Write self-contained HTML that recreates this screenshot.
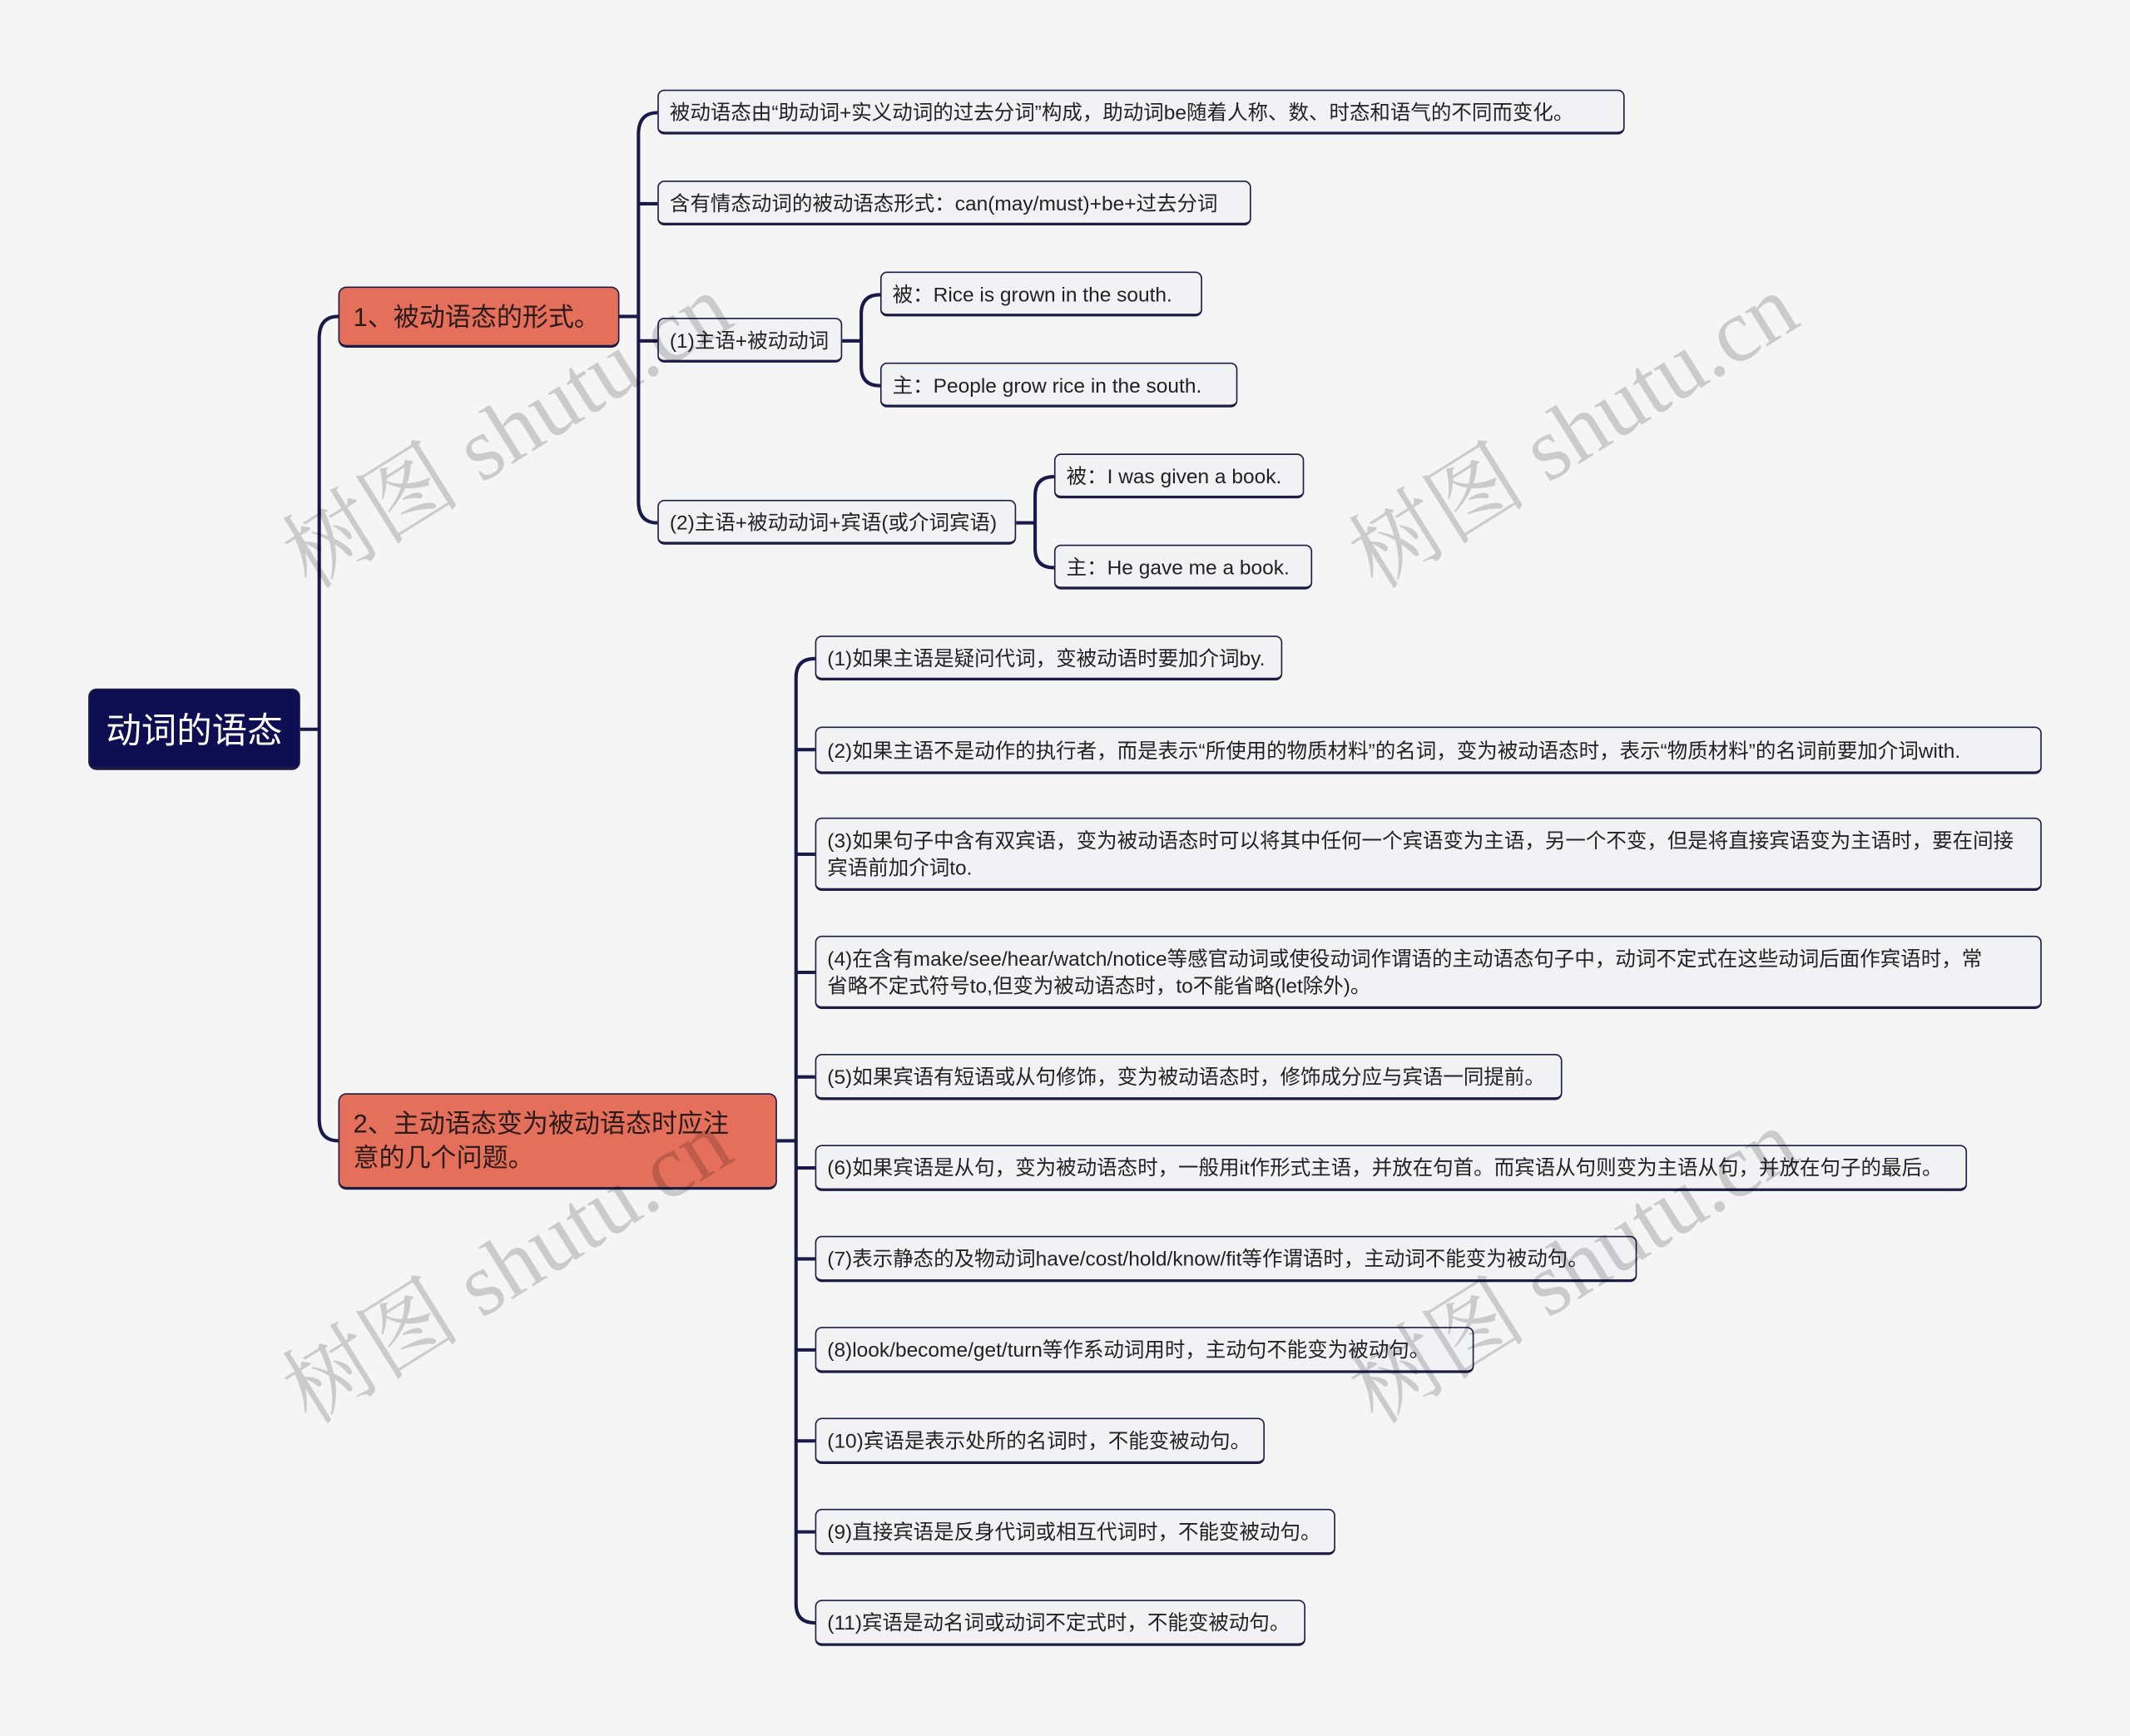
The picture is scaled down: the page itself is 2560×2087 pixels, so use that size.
<!DOCTYPE html>
<html><head><meta charset="utf-8"><style>
html,body{margin:0;padding:0;background:#f5f5f5;width:2560px;height:2087px;overflow:hidden}
#w{position:absolute;left:0;top:0;width:1568px;height:1278px;transform:scale(1.632653);transform-origin:0 0;font-family:"Liberation Sans","Noto Sans CJK SC",sans-serif}
.n{position:absolute;box-sizing:border-box;border:1.3px solid #1c1c45;border-bottom-width:2px;border-radius:5px;background:#f2f2f4;color:#222;font-size:15px;line-height:20px;padding:3px 8px 0 8px;display:flex;align-items:center;white-space:nowrap}
.m{white-space:normal}
.b{background:#e46f5a;font-size:19px;line-height:25px;color:#2a1a1a;padding:2px 10px 0 10px;border-radius:6px}
.r{background:#0d0f52;color:#fff;font-size:26px;justify-content:center;border-radius:6px}
.wm{position:absolute;font-family:"Liberation Serif","Noto Serif CJK SC",serif;font-size:66px;color:rgba(0,0,0,0.17);transform:rotate(-32deg);white-space:nowrap}
svg{position:absolute;left:0;top:0}
</style></head><body><div id="w">
<svg width="1568" height="1278" fill="none" stroke="#1a1a4a" stroke-width="2.5">
<path d="M221,537 H235 M235,249 Q235,233 249,233 M235,249 V824 Q235,840 249,840"/>
<path d="M456,233 H470 M470,99 Q470,83 484,83 M470,99 V369 Q470,385 484,385 M470,150 H484 M470,251 H484"/>
<path d="M620,251 H634 M634,231 Q634,217 648,217 M634,231 V270 Q634,284 648,284"/>
<path d="M748,385 H762 M762,365 Q762,351 776,351 M762,365 V404 Q762,418 776,418"/>
<path d="M572,840 H586 M586,499 Q586,485 600,485 M586,499 V1181 Q586,1195 600,1195 M586,552 H600 M586,629 H600 M586,716 H600 M586,793 H600 M586,860 H600 M586,927 H600 M586,994 H600 M586,1061 H600 M586,1128 H600"/>
</svg>
<div class="n r" style="left:65px;top:507px;width:156px;height:60px">动词的语态</div>
<div class="n b" style="left:249px;top:211px;width:207px;height:45px">1、被动语态的形式。</div>
<div class="n b m" style="left:249px;top:805px;width:323px;height:71px;padding-right:26px">2、主动语态变为被动语态时应注意的几个问题。</div>
<div class="n" style="left:484px;top:66px;width:712px;height:33px">被动语态由“助动词+实义动词的过去分词”构成，助动词be随着人称、数、时态和语气的不同而变化。</div>
<div class="n" style="left:484px;top:133px;width:437px;height:33px">含有情态动词的被动语态形式：can(may/must)+be+过去分词</div>
<div class="n" style="left:484px;top:234px;width:136px;height:33px">(1)主语+被动动词</div>
<div class="n" style="left:484px;top:368px;width:264px;height:33px">(2)主语+被动动词+宾语(或介词宾语)</div>
<div class="n" style="left:648px;top:200px;width:237px;height:33px">被：Rice is grown in the south.</div>
<div class="n" style="left:648px;top:267px;width:263px;height:33px">主：People grow rice in the south.</div>
<div class="n" style="left:776px;top:334px;width:184px;height:33px">被：I was given a book.</div>
<div class="n" style="left:776px;top:401px;width:190px;height:33px">主：He gave me a book.</div>
<div class="n" style="left:600px;top:468px;width:344px;height:33px">(1)如果主语是疑问代词，变被动语时要加介词by.</div>
<div class="n" style="left:600px;top:535px;width:903px;height:35px">(2)如果主语不是动作的执行者，而是表示“所使用的物质材料”的名词，变为被动语态时，表示“物质材料”的名词前要加介词with.</div>
<div class="n m" style="left:600px;top:602px;width:903px;height:54px">(3)如果句子中含有双宾语，变为被动语态时可以将其中任何一个宾语变为主语，另一个不变，但是将直接宾语变为主语时，要在间接宾语前加介词to.</div>
<div class="n m" style="left:600px;top:689px;width:903px;height:54px">(4)在含有make/see/hear/watch/notice等感官动词或使役动词作谓语的主动语态句子中，动词不定式在这些动词后面作宾语时，常<br>省略不定式符号to,但变为被动语态时，to不能省略(let除外)。</div>
<div class="n" style="left:600px;top:776px;width:550px;height:34px">(5)如果宾语有短语或从句修饰，变为被动语态时，修饰成分应与宾语一同提前。</div>
<div class="n" style="left:600px;top:843px;width:848px;height:34px">(6)如果宾语是从句，变为被动语态时，一般用it作形式主语，并放在句首。而宾语从句则变为主语从句，并放在句子的最后。</div>
<div class="n" style="left:600px;top:910px;width:605px;height:34px">(7)表示静态的及物动词have/cost/hold/know/fit等作谓语时，主动词不能变为被动句。</div>
<div class="n" style="left:600px;top:977px;width:485px;height:34px">(8)look/become/get/turn等作系动词用时，主动句不能变为被动句。</div>
<div class="n" style="left:600px;top:1044px;width:331px;height:34px">(10)宾语是表示处所的名词时，不能变被动句。</div>
<div class="n" style="left:600px;top:1111px;width:383px;height:34px">(9)直接宾语是反身代词或相互代词时，不能变被动句。</div>
<div class="n" style="left:600px;top:1178px;width:361px;height:34px">(11)宾语是动名词或动词不定式时，不能变被动句。</div>
<div class="wm" style="left:185px;top:265px">树图 shutu.cn</div>
<div class="wm" style="left:970px;top:265px">树图 shutu.cn</div>
<div class="wm" style="left:185px;top:880px">树图 shutu.cn</div>
<div class="wm" style="left:970px;top:880px">树图 shutu.cn</div>
</div></body></html>
